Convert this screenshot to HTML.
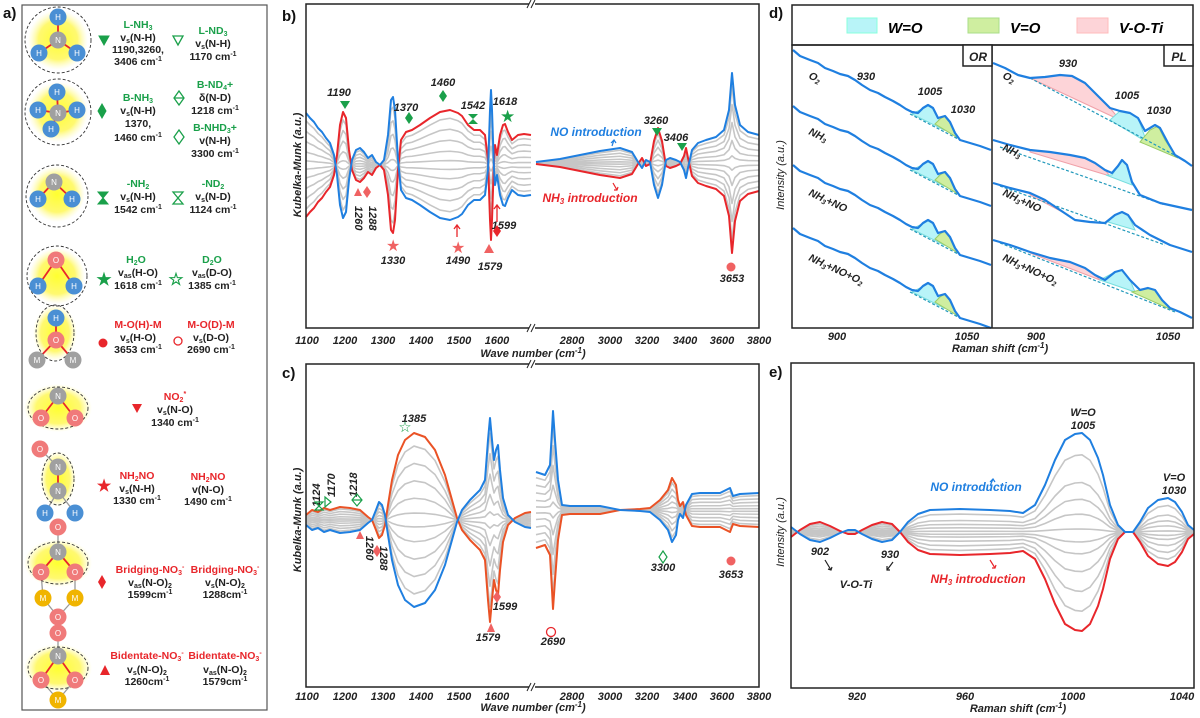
<!DOCTYPE html>
<html><head><meta charset="utf-8"><style>
body{margin:0;background:#fff}
svg{display:block;font-family:"Liberation Sans",sans-serif}
.a text{font-weight:bold;font-size:10.5px;text-anchor:middle;fill:#222}
.g{fill:#1aa04a!important}.r{fill:#e8262b!important}
.at{font-size:8px!important;fill:#fff!important;font-weight:normal!important}
.n{font:italic bold 11px "Liberation Sans",sans-serif;fill:#222;text-anchor:middle}
.tk{font:italic bold 11px "Liberation Sans",sans-serif;fill:#222;text-anchor:middle}
.pl{font:bold 15px "Liberation Sans",sans-serif;fill:#111}
.cv{fill:none;vector-effect:non-scaling-stroke;stroke-linejoin:round}
.gr{stroke:#c6c6c6;stroke-width:1.6}
.bl{stroke:#1f7fe0;stroke-width:2}
.rd{stroke:#e8262b;stroke-width:2}
.dl{fill:none;stroke:#1f7fe0;stroke-width:2.2;stroke-linejoin:round}
</style></head><body>
<svg width="1200" height="718" viewBox="0 0 1200 718" xmlns="http://www.w3.org/2000/svg" xmlns:xlink="http://www.w3.org/1999/xlink">
<defs><radialGradient id="yg"><stop offset="0" stop-color="#ffff30"/><stop offset="0.65" stop-color="#fff860" stop-opacity="0.9"/><stop offset="1" stop-color="#fffbb0" stop-opacity="0"/></radialGradient>
<polyline id="bL" class="cv" points="306,113 310,118 314,122 318,128 322,132 326,138 330,143 334,155 337,175 340,205 343,218 346,212 349,180 352,160 356,150 360,148 364,152 368,158 372,155 376,162 380,165 384,160 388,135 391,100 393,97 395,110 398,160 401,190 406,198 412,200 420,205 430,212 440,218 450,220 458,217 462,214 468,205 474,200 480,200 485,195 488,170 490,110 491,90 492,110 494,170 495,185 497,175 500,195 503,205 505,206 508,198 512,190 518,195 524,196 531,195"/>
<polyline id="bR" class="cv" points="536,162 560,159 580,155 600,151 620,148 632,152 638,162 642,168 646,160 650,162 654,185 658,198 662,185 666,160 670,158 676,160 680,162 684,170 686,178 688,168 692,150 698,143 706,140 716,137 724,130 729,110 732,73 735,105 740,125 748,132 759,135"/>
<polyline id="cL" class="cv" points="306,525 312,530 318,528 324,532 330,530 340,533 350,532 360,530 368,523 372,520 376,510 379,502 382,505 385,515 388,535 392,560 398,585 405,600 414,607 425,603 435,590 445,565 452,540 457,522 462,510 470,500 480,490 485,480 488,440 490,418 492,440 494,460 496,450 498,445 500,470 503,498 508,515 515,522 525,527 531,528"/>
<polyline id="cR" class="cv" points="536,472 545,475 550,465 552,430 553,411 555,440 558,480 562,505 570,506 600,506 620,510 640,511 650,512 660,520 668,530 672,542 676,535 678,520 680,514 683,518 686,505 692,494 700,493 720,493 730,488 733,496 740,494 759,493"/>
<polyline id="eC" class="cv" points="791,527 800,534 810,540 820,542 830,538 840,533 848,530 855,530 862,534 872,539 882,542 892,540 900,532 908,522 918,514 930,510 960,509 990,510 1010,511 1023,513 1035,505 1045,485 1055,460 1065,440 1075,434 1082,433 1090,440 1098,458 1103,475 1110,505 1118,525 1125,532 1133,532 1140,522 1148,508 1158,500 1168,498 1175,502 1182,512 1188,525 1194,530"/>
<g id="orT">
<path d="M912,64 L920,60 L928,55 L934,59 L940,72 L944,80 Z" fill="#b8f4f8" stroke="#7dd" stroke-width="1"/>
<path d="M935,74 L940,69 L945,66 L950,72 L955,83 L958,88 Z" fill="#cfeea0" stroke="#9c6" stroke-width="1"/>
<line x1="910" y1="64" x2="960" y2="90" stroke="#29b" stroke-dasharray="3,2" stroke-width="1.2"/>
<polyline class="dl" points="793,0 800,6 810,10 818,13 825,18 833,21 840,24 848,26 855,30 862,35 870,40 878,43 885,47 893,51 900,55 906,59 912,62 918,63 923,58 928,55 933,58 938,68 945,66 950,72 955,83 960,90 970,93 980,96 991,100"/>
</g>
</defs>

<text class="pl" x="3" y="18">a)</text>
<text class="pl" x="282" y="21">b)</text>
<text class="pl" x="282" y="378">c)</text>
<text class="pl" x="769" y="18">d)</text>
<text class="pl" x="769" y="377">e)</text>

<!-- spectra b -->
<g>
<use xlink:href="#bL" class="gr" transform="matrix(1,0,0,0.85,0,24.75)"/><use xlink:href="#bL" class="gr" transform="matrix(1,0,0,0.65,0,57.75)"/><use xlink:href="#bL" class="gr" transform="matrix(1,0,0,0.45,0,90.75)"/><use xlink:href="#bL" class="gr" transform="matrix(1,0,0,0.25,0,123.75)"/><use xlink:href="#bL" class="gr" transform="matrix(1,0,0,0.08,0,151.8)"/>
<use xlink:href="#bL" class="gr" transform="matrix(1,0,0,-0.85,0,305.25)"/><use xlink:href="#bL" class="gr" transform="matrix(1,0,0,-0.65,0,272.25)"/><use xlink:href="#bL" class="gr" transform="matrix(1,0,0,-0.45,0,239.25)"/><use xlink:href="#bL" class="gr" transform="matrix(1,0,0,-0.25,0,206.25)"/><use xlink:href="#bL" class="gr" transform="matrix(1,0,0,-0.08,0,178.2)"/>
<use xlink:href="#bL" class="rd" transform="matrix(1,0,0,-1,0,330)"/><use xlink:href="#bL" class="bl"/>
<use xlink:href="#bR" class="gr" transform="matrix(1,0,0,0.85,0,24.45)"/><use xlink:href="#bR" class="gr" transform="matrix(1,0,0,0.65,0,57.05)"/><use xlink:href="#bR" class="gr" transform="matrix(1,0,0,0.45,0,89.65)"/><use xlink:href="#bR" class="gr" transform="matrix(1,0,0,0.25,0,122.25)"/><use xlink:href="#bR" class="gr" transform="matrix(1,0,0,0.08,0,149.96)"/>
<use xlink:href="#bR" class="gr" transform="matrix(1,0,0,-0.85,0,301.55)"/><use xlink:href="#bR" class="gr" transform="matrix(1,0,0,-0.65,0,268.95)"/><use xlink:href="#bR" class="gr" transform="matrix(1,0,0,-0.45,0,236.35)"/><use xlink:href="#bR" class="gr" transform="matrix(1,0,0,-0.25,0,203.75)"/><use xlink:href="#bR" class="gr" transform="matrix(1,0,0,-0.08,0,176.04)"/>
<use xlink:href="#bR" class="rd" transform="matrix(1,0,0,-1,0,326)"/><use xlink:href="#bR" class="bl"/>
</g>
<!-- spectra c -->
<g>
<use xlink:href="#cL" class="gr" transform="matrix(1,0,0,0.85,0,78)"/><use xlink:href="#cL" class="gr" transform="matrix(1,0,0,0.65,0,182)"/><use xlink:href="#cL" class="gr" transform="matrix(1,0,0,0.45,0,286)"/><use xlink:href="#cL" class="gr" transform="matrix(1,0,0,0.25,0,390)"/><use xlink:href="#cL" class="gr" transform="matrix(1,0,0,0.08,0,478.4)"/>
<use xlink:href="#cL" class="gr" transform="matrix(1,0,0,-0.85,0,962)"/><use xlink:href="#cL" class="gr" transform="matrix(1,0,0,-0.65,0,858)"/><use xlink:href="#cL" class="gr" transform="matrix(1,0,0,-0.45,0,754)"/><use xlink:href="#cL" class="gr" transform="matrix(1,0,0,-0.25,0,650)"/><use xlink:href="#cL" class="gr" transform="matrix(1,0,0,-0.08,0,561.6)"/>
<use xlink:href="#cL" style="stroke:#ea5225;stroke-width:2" transform="matrix(1,0,0,-1,0,1040)"/><use xlink:href="#cL" class="bl"/>
<use xlink:href="#cR" class="gr" transform="matrix(1,0,0,0.85,0,76.5)"/><use xlink:href="#cR" class="gr" transform="matrix(1,0,0,0.65,0,178.5)"/><use xlink:href="#cR" class="gr" transform="matrix(1,0,0,0.45,0,280.5)"/><use xlink:href="#cR" class="gr" transform="matrix(1,0,0,0.25,0,382.5)"/><use xlink:href="#cR" class="gr" transform="matrix(1,0,0,0.08,0,469.2)"/>
<use xlink:href="#cR" class="gr" transform="matrix(1,0,0,-0.85,0,943.5)"/><use xlink:href="#cR" class="gr" transform="matrix(1,0,0,-0.65,0,841.5)"/><use xlink:href="#cR" class="gr" transform="matrix(1,0,0,-0.45,0,739.5)"/><use xlink:href="#cR" class="gr" transform="matrix(1,0,0,-0.25,0,637.5)"/><use xlink:href="#cR" class="gr" transform="matrix(1,0,0,-0.08,0,550.8)"/>
<use xlink:href="#cR" style="stroke:#ea5225;stroke-width:2" transform="matrix(1,0,0,-1,0,1020)"/><use xlink:href="#cR" class="bl"/>
</g>
<!-- spectra e -->
<g>
<use xlink:href="#eC" class="gr" transform="matrix(1,0,0,0.78,0,117.04)"/><use xlink:href="#eC" class="gr" transform="matrix(1,0,0,0.5,0,266)"/><use xlink:href="#eC" class="gr" transform="matrix(1,0,0,0.33,0,356.44)"/><use xlink:href="#eC" class="gr" transform="matrix(1,0,0,0.18,0,436.24)"/><use xlink:href="#eC" class="gr" transform="matrix(1,0,0,0.03,0,516.04)"/>
<use xlink:href="#eC" class="gr" transform="matrix(1,0,0,-0.8,0,957.6)"/><use xlink:href="#eC" class="gr" transform="matrix(1,0,0,-0.6,0,851.2)"/><use xlink:href="#eC" class="gr" transform="matrix(1,0,0,-0.4,0,744.8)"/><use xlink:href="#eC" class="gr" transform="matrix(1,0,0,-0.22,0,649.04)"/><use xlink:href="#eC" class="gr" transform="matrix(1,0,0,-0.1,0,585.2)"/>
<use xlink:href="#eC" class="rd" transform="matrix(1,0,0,-1,0,1064)"/><use xlink:href="#eC" class="bl"/>
</g>
<!-- panel d curves -->
<use xlink:href="#orT" transform="translate(0,50)"/>
<use xlink:href="#orT" transform="translate(0,106)"/>
<use xlink:href="#orT" transform="translate(0,165)"/>
<use xlink:href="#orT" transform="translate(0,228)"/>
<g>
<path d="M1030,78 L1045,77 L1060,75 L1072,76 L1085,83 L1100,98 L1110,108 L1120,120 L1030,78Z" fill="#fdd4d8" stroke="#f0a0a8"/>
<path d="M1110,120 L1120,111 L1130,113 L1138,118 L1146,140 L1150,144 Z" fill="#b8f4f8" stroke="#7dd"/>
<path d="M1140,142 L1150,130 L1158,126 L1165,140 L1175,155 L1178,158 Z" fill="#cfeea0" stroke="#9c6"/>
<line x1="1030" y1="78" x2="1180" y2="158" stroke="#29b" stroke-dasharray="3,2" stroke-width="1.2"/>
<polyline class="dl" points="993,63 1005,68 1018,75 1030,78 1045,77 1060,75 1072,76 1085,83 1100,98 1110,108 1120,111 1130,113 1138,118 1145,131 1155,125 1160,128 1168,143 1175,155 1185,161 1192,166"/>
<path d="M1030,150 L1050,152 L1070,155 L1085,158 L1095,163 L1105,170 L1110,176 L1030,152Z" fill="#fdd4d8" stroke="#f0a0a8"/>
<path d="M1106,175 L1112,175 L1118,166 L1122,160 L1127,165 L1132,185 Z" fill="#b8f4f8" stroke="#7dd"/>
<line x1="1000" y1="147" x2="1165" y2="205" stroke="#29b" stroke-dasharray="3,2" stroke-width="1.2"/>
<polyline class="dl" points="993,140 1010,145 1030,150 1050,152 1070,155 1085,158 1095,163 1105,170 1112,173 1118,166 1122,160 1127,165 1132,182 1140,195 1160,203 1192,210"/>
<path d="M1030,193 L1045,200 L1060,210 L1068,215 L1030,195Z" fill="#fdd4d8" stroke="#f0a0a8"/>
<path d="M1108,222 L1115,215 L1122,212 L1128,215 L1135,230 Z" fill="#b8f4f8" stroke="#7dd"/>
<line x1="1000" y1="186" x2="1165" y2="245" stroke="#29b" stroke-dasharray="3,2" stroke-width="1.2"/>
<polyline class="dl" points="993,183 1010,188 1030,193 1045,200 1060,210 1075,220 1090,222 1105,223 1115,215 1122,212 1128,215 1135,225 1150,235 1170,245 1192,252"/>
<path d="M1030,252 L1050,258 L1070,262 L1085,268 L1095,275 L1100,280 L1030,253Z" fill="#fdd4d8" stroke="#f0a0a8"/>
<path d="M1100,280 L1115,272 L1122,270 L1130,280 L1135,292 Z" fill="#b8f4f8" stroke="#7dd"/>
<path d="M1132,292 L1140,290 L1148,288 L1155,290 L1162,300 L1172,310 Z" fill="#cfeea0" stroke="#9c6"/>
<line x1="1000" y1="243" x2="1175" y2="312" stroke="#29b" stroke-dasharray="3,2" stroke-width="1.2"/>
<polyline class="dl" points="993,240 1010,245 1030,252 1050,258 1070,262 1085,268 1095,275 1105,280 1115,272 1122,270 1130,280 1140,290 1148,288 1155,290 1162,300 1170,308 1180,312 1192,318"/>
</g>

<g class="a">
<rect x="22" y="5" width="245" height="705" fill="none" stroke="#555" stroke-width="1.2"/>
<g fill="url(#yg)">
<circle cx="58" cy="40" r="30"/><circle cx="58" cy="112" r="30"/><circle cx="57" cy="194" r="28"/><circle cx="57" cy="276" r="28"/><ellipse cx="55" cy="333" rx="22" ry="28"/>
<ellipse cx="58" cy="408" rx="34" ry="24"/><ellipse cx="58" cy="479" rx="18" ry="28"/><ellipse cx="58" cy="563" rx="34" ry="24"/><ellipse cx="58" cy="668" rx="34" ry="24"/>
</g>
<g stroke="#e8262b" stroke-width="1.8">
<line x1="58" y1="40" x2="58" y2="17"/><line x1="58" y1="40" x2="39" y2="53"/><line x1="58" y1="40" x2="77" y2="53"/>
<line x1="58" y1="113" x2="57" y2="92"/><line x1="58" y1="113" x2="38" y2="110"/><line x1="58" y1="113" x2="51" y2="129"/><line x1="58" y1="113" x2="77" y2="110"/>
<line x1="54" y1="182" x2="38" y2="199"/><line x1="54" y1="182" x2="72" y2="199"/>
<line x1="56" y1="260" x2="38" y2="286"/><line x1="56" y1="260" x2="74" y2="286"/>
<line x1="56" y1="318" x2="56" y2="340"/><line x1="56" y1="340" x2="37" y2="360"/><line x1="56" y1="340" x2="73" y2="360"/>
<line x1="58" y1="396" x2="41" y2="418"/><line x1="58" y1="396" x2="75" y2="418"/>
<line x1="58" y1="467" x2="58" y2="491"/>
<line x1="58" y1="552" x2="41" y2="572"/><line x1="58" y1="552" x2="75" y2="572"/>
<line x1="58" y1="656" x2="41" y2="680"/><line x1="58" y1="656" x2="75" y2="680"/>
</g>
<g stroke="#999" stroke-width="1.3">
<line x1="40" y1="449" x2="58" y2="467"/><line x1="58" y1="491" x2="45" y2="513"/><line x1="58" y1="491" x2="75" y2="513"/>
<line x1="58" y1="527" x2="58" y2="552"/><line x1="41" y1="572" x2="43" y2="598"/><line x1="75" y1="572" x2="75" y2="598"/><line x1="43" y1="598" x2="58" y2="617"/><line x1="75" y1="598" x2="58" y2="617"/>
<line x1="58" y1="617" x2="58" y2="633"/><line x1="58" y1="633" x2="58" y2="656"/><line x1="41" y1="680" x2="58" y2="700"/><line x1="75" y1="680" x2="58" y2="700"/>
</g>
<g fill="none" stroke="#333" stroke-dasharray="3,2" stroke-width="0.9">
<circle cx="58" cy="40" r="33"/><circle cx="58" cy="112" r="33"/><circle cx="57" cy="196" r="31"/><circle cx="57" cy="276" r="30"/><ellipse cx="55" cy="333" rx="19" ry="28"/>
<ellipse cx="58" cy="408" rx="30" ry="21"/><ellipse cx="58" cy="479" rx="16" ry="26"/><ellipse cx="58" cy="563" rx="30" ry="21"/><ellipse cx="58" cy="668" rx="30" ry="21"/>
</g>
<g fill="#4a8fd4"><circle cx="58" cy="17" r="8.5"/><circle cx="39" cy="53" r="8.5"/><circle cx="77" cy="53" r="8.5"/>
<circle cx="57" cy="92" r="8.5"/><circle cx="38" cy="110" r="8.5"/><circle cx="51" cy="129" r="8.5"/><circle cx="77" cy="110" r="8.5"/>
<circle cx="38" cy="199" r="8.5"/><circle cx="72" cy="199" r="8.5"/><circle cx="38" cy="286" r="8.5"/><circle cx="74" cy="286" r="8.5"/>
<circle cx="56" cy="318" r="8.5"/><circle cx="45" cy="513" r="8.5"/><circle cx="75" cy="513" r="8.5"/></g>
<g fill="#a0a0a0"><circle cx="58" cy="40" r="8.5"/><circle cx="58" cy="113" r="8.5"/><circle cx="54" cy="182" r="8.5"/><circle cx="37" cy="360" r="8.5"/><circle cx="73" cy="360" r="8.5"/>
<circle cx="58" cy="396" r="8.5"/><circle cx="58" cy="467" r="8.5"/><circle cx="58" cy="491" r="8.5"/><circle cx="58" cy="552" r="8.5"/><circle cx="58" cy="656" r="8.5"/></g>
<g fill="#f07a7a"><circle cx="56" cy="260" r="8.5"/><circle cx="56" cy="340" r="8.5"/><circle cx="41" cy="418" r="8.5"/><circle cx="75" cy="418" r="8.5"/><circle cx="40" cy="449" r="8.5"/>
<circle cx="58" cy="527" r="8.5"/><circle cx="41" cy="572" r="8.5"/><circle cx="75" cy="572" r="8.5"/><circle cx="58" cy="617" r="8.5"/><circle cx="58" cy="633" r="8.5"/><circle cx="41" cy="680" r="8.5"/><circle cx="75" cy="680" r="8.5"/></g>
<g fill="#f0b400"><circle cx="43" cy="598" r="8.5"/><circle cx="75" cy="598" r="8.5"/><circle cx="58" cy="700" r="8.5"/></g>
<g>
<text class="at" x="58" y="20">H</text><text class="at" x="39" y="56">H</text><text class="at" x="77" y="56">H</text><text class="at" x="58" y="43">N</text>
<text class="at" x="57" y="95">H</text><text class="at" x="38" y="113">H</text><text class="at" x="51" y="132">H</text><text class="at" x="77" y="113">H</text><text class="at" x="58" y="116">N</text>
<text class="at" x="54" y="185">N</text><text class="at" x="38" y="202">H</text><text class="at" x="72" y="202">H</text>
<text class="at" x="56" y="263">O</text><text class="at" x="38" y="289">H</text><text class="at" x="74" y="289">H</text>
<text class="at" x="56" y="321">H</text><text class="at" x="56" y="343">O</text><text class="at" x="37" y="363">M</text><text class="at" x="73" y="363">M</text>
<text class="at" x="58" y="399">N</text><text class="at" x="41" y="421">O</text><text class="at" x="75" y="421">O</text>
<text class="at" x="40" y="452">O</text><text class="at" x="58" y="470">N</text><text class="at" x="58" y="494">N</text><text class="at" x="45" y="516">H</text><text class="at" x="75" y="516">H</text>
<text class="at" x="58" y="530">O</text><text class="at" x="58" y="555">N</text><text class="at" x="41" y="575">O</text><text class="at" x="75" y="575">O</text><text class="at" x="43" y="601">M</text><text class="at" x="75" y="601">M</text><text class="at" x="58" y="620">O</text>
<text class="at" x="58" y="636">O</text><text class="at" x="58" y="659">N</text><text class="at" x="41" y="683">O</text><text class="at" x="75" y="683">O</text><text class="at" x="58" y="703">M</text>
</g>
<g fill="#1aa04a" stroke="#1aa04a">
<path d="M99,36 L109,36 L104,45Z"/><path d="M173,36 L183,36 L178,45Z" fill="none" stroke-width="1.3"/>
<path d="M102,104 L106,111 L102,118 L98,111Z"/>
<path d="M179,91 L184,98 L179,105 L174,98Z M174,98 L184,98" fill="none" stroke-width="1.3"/>
<path d="M179,130 L184,137 L179,144 L174,137Z" fill="none" stroke-width="1.3"/>
<path d="M98,192 L108,192 L98,204 L108,204Z"/><path d="M173,192 L183,192 L173,204 L183,204Z" fill="none" stroke-width="1.3"/>
</g>
<text class="g" x="104" y="285" style="font-size:17px">★</text>
<text class="g" x="176" y="285" style="font-size:17px">☆</text>
<circle cx="103" cy="343" r="4.5" fill="#e8262b"/><circle cx="178" cy="341" r="4" fill="none" stroke="#e8262b" stroke-width="1.3"/>
<path d="M132,404 L142,404 L137,413Z" fill="#e8262b"/>
<text class="r" x="104" y="491" style="font-size:16px">★</text>
<path d="M102,575 L106,582 L102,589 L98,582Z" fill="#e8262b"/>
<path d="M100,675 L110,675 L105,665Z" fill="#e8262b"/>
<text class="g" x="138" y="28">L-NH<tspan font-size="7" dy="2">3</tspan></text>
<text x="138" y="41">v<tspan font-size="7" dy="2">s</tspan><tspan dy="-2">(N-H)</tspan></text>
<text x="138" y="53">1190,3260,</text><text x="138" y="65">3406 cm<tspan font-size="7" dy="-4">-1</tspan></text>
<text class="g" x="213" y="34">L-ND<tspan font-size="7" dy="2">3</tspan></text>
<text x="213" y="47">v<tspan font-size="7" dy="2">s</tspan><tspan dy="-2">(N-H)</tspan></text>
<text x="213" y="60">1170 cm<tspan font-size="7" dy="-4">-1</tspan></text>
<text class="g" x="138" y="101">B-NH<tspan font-size="7" dy="2">3</tspan></text>
<text x="138" y="114">v<tspan font-size="7" dy="2">s</tspan><tspan dy="-2">(N-H)</tspan></text>
<text x="138" y="127">1370,</text><text x="138" y="141">1460 cm<tspan font-size="7" dy="-4">-1</tspan></text>
<text class="g" x="215" y="88">B-ND<tspan font-size="7" dy="2">4</tspan><tspan dy="-2">+</tspan></text>
<text x="215" y="101">δ(N-D)</text><text x="215" y="114">1218 cm<tspan font-size="7" dy="-4">-1</tspan></text>
<text class="g" x="215" y="131">B-NHD<tspan font-size="7" dy="2">3</tspan><tspan dy="-2">+</tspan></text>
<text x="215" y="144">v(N-H)</text><text x="215" y="157">3300 cm<tspan font-size="7" dy="-4">-1</tspan></text>
<text class="g" x="138" y="187">-NH<tspan font-size="7" dy="2">2</tspan></text>
<text x="138" y="200">v<tspan font-size="7" dy="2">s</tspan><tspan dy="-2">(N-H)</tspan></text>
<text x="138" y="213">1542 cm<tspan font-size="7" dy="-4">-1</tspan></text>
<text class="g" x="213" y="187">-ND<tspan font-size="7" dy="2">2</tspan></text>
<text x="213" y="200">v<tspan font-size="7" dy="2">s</tspan><tspan dy="-2">(N-D)</tspan></text>
<text x="213" y="213">1124 cm<tspan font-size="7" dy="-4">-1</tspan></text>
<text class="g" x="136" y="263">H<tspan font-size="7" dy="2">2</tspan><tspan dy="-2">O</tspan></text>
<text x="138" y="276">v<tspan font-size="7" dy="2">as</tspan><tspan dy="-2">(H-O)</tspan></text>
<text x="138" y="289">1618 cm<tspan font-size="7" dy="-4">-1</tspan></text>
<text class="g" x="212" y="263">D<tspan font-size="7" dy="2">2</tspan><tspan dy="-2">O</tspan></text>
<text x="212" y="276">v<tspan font-size="7" dy="2">as</tspan><tspan dy="-2">(D-O)</tspan></text>
<text x="212" y="289">1385 cm<tspan font-size="7" dy="-4">-1</tspan></text>
<text class="r" x="138" y="328">M-O(H)-M</text>
<text x="138" y="341">v<tspan font-size="7" dy="2">s</tspan><tspan dy="-2">(H-O)</tspan></text>
<text x="138" y="353">3653 cm<tspan font-size="7" dy="-4">-1</tspan></text>
<text class="r" x="211" y="328">M-O(D)-M</text>
<text x="211" y="341">v<tspan font-size="7" dy="2">s</tspan><tspan dy="-2">(D-O)</tspan></text>
<text x="211" y="353">2690 cm<tspan font-size="7" dy="-4">-1</tspan></text>
<text class="r" x="175" y="400">NO<tspan font-size="7" dy="2">2</tspan><tspan font-size="7" dy="-6">*</tspan></text>
<text x="175" y="413">v<tspan font-size="7" dy="2">s</tspan><tspan dy="-2">(N-O)</tspan></text>
<text x="175" y="426">1340 cm<tspan font-size="7" dy="-4">-1</tspan></text>
<text class="r" x="137" y="479">NH<tspan font-size="7" dy="2">2</tspan><tspan dy="-2">NO</tspan></text>
<text x="137" y="492">v<tspan font-size="7" dy="2">s</tspan><tspan dy="-2">(N-H)</tspan></text>
<text x="137" y="504">1330 cm<tspan font-size="7" dy="-4">-1</tspan></text>
<text class="r" x="208" y="480">NH<tspan font-size="7" dy="2">2</tspan><tspan dy="-2">NO</tspan></text>
<text x="208" y="493">v(N-O)</text>
<text x="208" y="505">1490 cm<tspan font-size="7" dy="-4">-1</tspan></text>
<text class="r" x="150" y="573">Bridging-NO<tspan font-size="7" dy="2">3</tspan><tspan font-size="7" dy="-6">-</tspan></text>
<text x="150" y="586">v<tspan font-size="7" dy="2">as</tspan><tspan dy="-2">(N-O)</tspan><tspan font-size="7" dy="2">2</tspan></text>
<text x="150" y="598">1599cm<tspan font-size="7" dy="-4">-1</tspan></text>
<text class="r" x="225" y="573">Bridging-NO<tspan font-size="7" dy="2">3</tspan><tspan font-size="7" dy="-6">-</tspan></text>
<text x="225" y="586">v<tspan font-size="7" dy="2">s</tspan><tspan dy="-2">(N-O)</tspan><tspan font-size="7" dy="2">2</tspan></text>
<text x="225" y="598">1288cm<tspan font-size="7" dy="-4">-1</tspan></text>
<text class="r" x="147" y="659">Bidentate-NO<tspan font-size="7" dy="2">3</tspan><tspan font-size="7" dy="-6">-</tspan></text>
<text x="147" y="673">v<tspan font-size="7" dy="2">s</tspan><tspan dy="-2">(N-O)</tspan><tspan font-size="7" dy="2">2</tspan></text>
<text x="147" y="685">1260cm<tspan font-size="7" dy="-4">-1</tspan></text>
<text class="r" x="225" y="659">Bidentate-NO<tspan font-size="7" dy="2">3</tspan><tspan font-size="7" dy="-6">-</tspan></text>
<text x="225" y="673">v<tspan font-size="7" dy="2">as</tspan><tspan dy="-2">(N-O)</tspan><tspan font-size="7" dy="2">2</tspan></text>
<text x="225" y="685">1579cm<tspan font-size="7" dy="-4">-1</tspan></text>
</g>

<g fill="none" stroke="#222" stroke-width="1.5">
<rect x="306" y="4" width="453" height="324"/>
<rect x="306" y="364" width="453" height="323"/>
<rect x="791" y="363" width="403" height="325"/>
<rect x="792" y="5" width="401" height="40"/>
<rect x="792" y="45" width="401" height="283"/>
<line x1="992" y1="45" x2="992" y2="328"/>
<rect x="963" y="45" width="29" height="21" fill="#fff"/>
<rect x="1164" y="45" width="29" height="21" fill="#fff"/>
</g>
<g fill="#fff"><rect x="529" y="0" width="6" height="8"/><rect x="529" y="324" width="6" height="8"/><rect x="529" y="360" width="6" height="8"/><rect x="529" y="683" width="6" height="8"/></g>
<g stroke="#222" stroke-width="1"><path d="M527,8 L531,0 M531,8 L535,0 M527,332 L531,324 M531,332 L535,324 M527,368 L531,360 M531,368 L535,360 M527,691 L531,683 M531,691 L535,683"/></g>
<text class="tk" x="978" y="61" style="font-size:12px">OR</text>
<text class="tk" x="1179" y="61" style="font-size:12px">PL</text>
<g class="tk">
<text x="307" y="344">1100</text><text x="345" y="344">1200</text><text x="383" y="344">1300</text><text x="421" y="344">1400</text><text x="459" y="344">1500</text><text x="497" y="344">1600</text>
<text x="572" y="344">2800</text><text x="610" y="344">3000</text><text x="647" y="344">3200</text><text x="685" y="344">3400</text><text x="722" y="344">3600</text><text x="759" y="344">3800</text>
<text x="533" y="357">Wave number (cm<tspan font-size="8" dy="-4">-1</tspan><tspan dy="4">)</tspan></text>
<text x="307" y="700">1100</text><text x="345" y="700">1200</text><text x="383" y="700">1300</text><text x="421" y="700">1400</text><text x="459" y="700">1500</text><text x="497" y="700">1600</text>
<text x="572" y="700">2800</text><text x="610" y="700">3000</text><text x="647" y="700">3200</text><text x="685" y="700">3400</text><text x="722" y="700">3600</text><text x="759" y="700">3800</text>
<text x="533" y="711">Wave number (cm<tspan font-size="8" dy="-4">-1</tspan><tspan dy="4">)</tspan></text>
<text x="837" y="340">900</text><text x="967" y="340">1050</text><text x="1036" y="340">900</text><text x="1168" y="340">1050</text>
<text x="1000" y="352">Raman shift (cm<tspan font-size="8" dy="-4">-1</tspan><tspan dy="4">)</tspan></text>
<text x="857" y="700">920</text><text x="965" y="700">960</text><text x="1073" y="700">1000</text><text x="1182" y="700">1040</text>
<text x="1018" y="712">Raman shift (cm<tspan font-size="8" dy="-4">-1</tspan><tspan dy="4">)</tspan></text>
<text transform="translate(301,165) rotate(-90)">Kubelka-Munk (a.u.)</text>
<text transform="translate(301,520) rotate(-90)">Kubelka-Munk (a.u.)</text>
<text transform="translate(784,175) rotate(-90)" style="font-weight:normal">Intensity (a.u.)</text>
<text transform="translate(784,532) rotate(-90)" style="font-weight:normal">Intensity (a.u.)</text>
</g>
<g class="n">
<text x="339" y="96">1190</text><text x="406" y="111">1370</text><text x="443" y="86">1460</text><text x="473" y="109">1542</text><text x="505" y="105">1618</text>
<text x="393" y="264">1330</text><text x="458" y="264">1490</text><text x="490" y="270">1579</text><text x="504" y="229">1599</text>
<text x="656" y="124">3260</text><text x="676" y="141">3406</text><text x="732" y="282">3653</text>
<text transform="translate(355,206) rotate(90)" style="text-anchor:start">1260</text>
<text transform="translate(369,206) rotate(90)" style="text-anchor:start">1288</text>
<text x="414" y="422">1385</text><text x="505" y="610">1599</text><text x="488" y="641">1579</text><text x="553" y="645">2690</text><text x="663" y="571">3300</text><text x="731" y="578">3653</text>
<text transform="translate(320,507) rotate(-90)" style="text-anchor:start">1124</text>
<text transform="translate(335,497) rotate(-90)" style="text-anchor:start">1170</text>
<text transform="translate(357,497) rotate(-90)" style="text-anchor:start">1218</text>
<text transform="translate(366,536) rotate(90)" style="text-anchor:start">1260</text>
<text transform="translate(380,546) rotate(90)" style="text-anchor:start">1288</text>
<text x="820" y="555">902</text><text x="890" y="558">930</text><text x="856" y="588">V-O-Ti</text>
<text x="1083" y="416">W=O</text><text x="1083" y="429">1005</text><text x="1174" y="481">V=O</text><text x="1174" y="494">1030</text>
<text x="596" y="136" style="fill:#1f7fe0;font-size:12px">NO introduction</text>
<text x="590" y="202" style="fill:#e8262b;font-size:12px">NH<tspan font-size="8" dy="2">3</tspan><tspan dy="-2"> introduction</tspan></text>
<text x="976" y="491" style="fill:#1f7fe0;font-size:12px">NO introduction</text>
<text x="978" y="583" style="fill:#e8262b;font-size:12px">NH<tspan font-size="8" dy="2">3</tspan><tspan dy="-2"> introduction</tspan></text>
<text x="866" y="80">930</text><text x="930" y="95">1005</text><text x="963" y="113">1030</text>
<text x="1068" y="67">930</text><text x="1127" y="99">1005</text><text x="1159" y="114">1030</text>
<g style="text-anchor:start;font-size:10.5px">
<text transform="translate(808,78) rotate(25)">O<tspan font-size="7" dy="2">2</tspan></text>
<text transform="translate(808,134) rotate(25)">NH<tspan font-size="7" dy="2">3</tspan></text>
<text transform="translate(808,195) rotate(25)">NH<tspan font-size="7" dy="2">3</tspan><tspan dy="-2">+NO</tspan></text>
<text transform="translate(808,260) rotate(25)">NH<tspan font-size="7" dy="2">3</tspan><tspan dy="-2">+NO+O</tspan><tspan font-size="7" dy="2">2</tspan></text>
<text transform="translate(1002,78) rotate(25)">O<tspan font-size="7" dy="2">2</tspan></text>
<text transform="translate(1002,150) rotate(25)">NH<tspan font-size="7" dy="2">3</tspan></text>
<text transform="translate(1002,195) rotate(25)">NH<tspan font-size="7" dy="2">3</tspan><tspan dy="-2">+NO</tspan></text>
<text transform="translate(1002,260) rotate(25)">NH<tspan font-size="7" dy="2">3</tspan><tspan dy="-2">+NO+O</tspan><tspan font-size="7" dy="2">2</tspan></text>
</g>
</g>
<g fill="#1aa04a"><path d="M340,101 L350,101 L345,109Z"/><path d="M409,112 L413,118 L409,124 L405,118Z"/><path d="M443,90 L447,96 L443,102 L439,96Z"/><path d="M468,114 L478,114 L468,124 L478,124Z"/>
<path d="M652,128 L662,128 L657,136Z"/><path d="M677,143 L687,143 L682,151Z"/></g>
<text x="500" y="122" style="font-size:17px;fill:#1aa04a">★</text>
<g fill="#f06262"><text x="386" y="251" style="font-size:16px">★</text><text x="451" y="253" style="font-size:16px">★</text><path d="M354,196 L362,196 L358,188Z"/><path d="M367,186 L371,192 L367,198 L363,192Z"/><path d="M484,253 L494,253 L489,244Z"/><circle cx="731" cy="267" r="4.5"/>
<path d="M356,539 L364,539 L360,531Z"/><path d="M377,545 L381,551 L377,557 L373,551Z"/><path d="M487,632 L495,632 L491,623Z"/><path d="M497,591 L501,597 L497,603 L493,597Z"/><circle cx="731" cy="561" r="4.5"/></g>
<path d="M497,225 L501,231 L497,237 L493,231Z" fill="#e8262b"/>
<circle cx="551" cy="632" r="4.5" fill="none" stroke="#e8262b" stroke-width="1.3"/>
<g stroke="#e8262b" stroke-width="1.3" fill="none"><path d="M457,237 L457,225 M454,229 L457,225 L460,229 M497,222 L497,205 M494,209 L497,205 L500,209"/></g>
<g stroke="#1aa04a" stroke-width="1.2" fill="none">
<path d="M315,502 L323,502 L315,510 L323,510Z"/><path d="M325,497 L331,502 L325,507Z"/><path d="M352,500 L357,494 L362,500 L357,506Z M352,500 L362,500"/><path d="M663,551 L667,557 L663,563 L659,557Z"/></g>
<text x="405" y="432" style="font-size:15px;fill:#1aa04a;text-anchor:middle">☆</text>
<rect x="847" y="18" width="30" height="15" fill="#b8f4f8" stroke="#8fd"/><text x="888" y="33" style="font:italic bold 15px 'Liberation Sans',sans-serif">W=O</text>
<rect x="968" y="18" width="31" height="15" fill="#cfeea0" stroke="#ad8"/><text x="1010" y="33" style="font:italic bold 15px 'Liberation Sans',sans-serif">V=O</text>
<rect x="1077" y="18" width="31" height="15" fill="#fdd4d8" stroke="#fbb"/><text x="1119" y="33" style="font:italic bold 15px 'Liberation Sans',sans-serif">V-O-Ti</text>
<g stroke="#222" stroke-width="1.2" fill="none"><path d="M825,560 L831,570 M828,569 L831,570 L832,567 M893,562 L887,570 M887,566 L887,570 L890,570"/></g>
<g stroke-width="1.2" fill="none"><path d="M612,146 L614,140 M611,143 L614,140 L616,143" stroke="#1f7fe0"/><path d="M613,183 L617,190 M614,190 L617,190 L618,187" stroke="#e8262b"/>
<path d="M990,486 L993,479 M990,482 L993,479 L995,482" stroke="#1f7fe0"/><path d="M990,560 L995,568 M992,568 L995,568 L996,565" stroke="#e8262b"/></g>
</svg>
</body></html>
